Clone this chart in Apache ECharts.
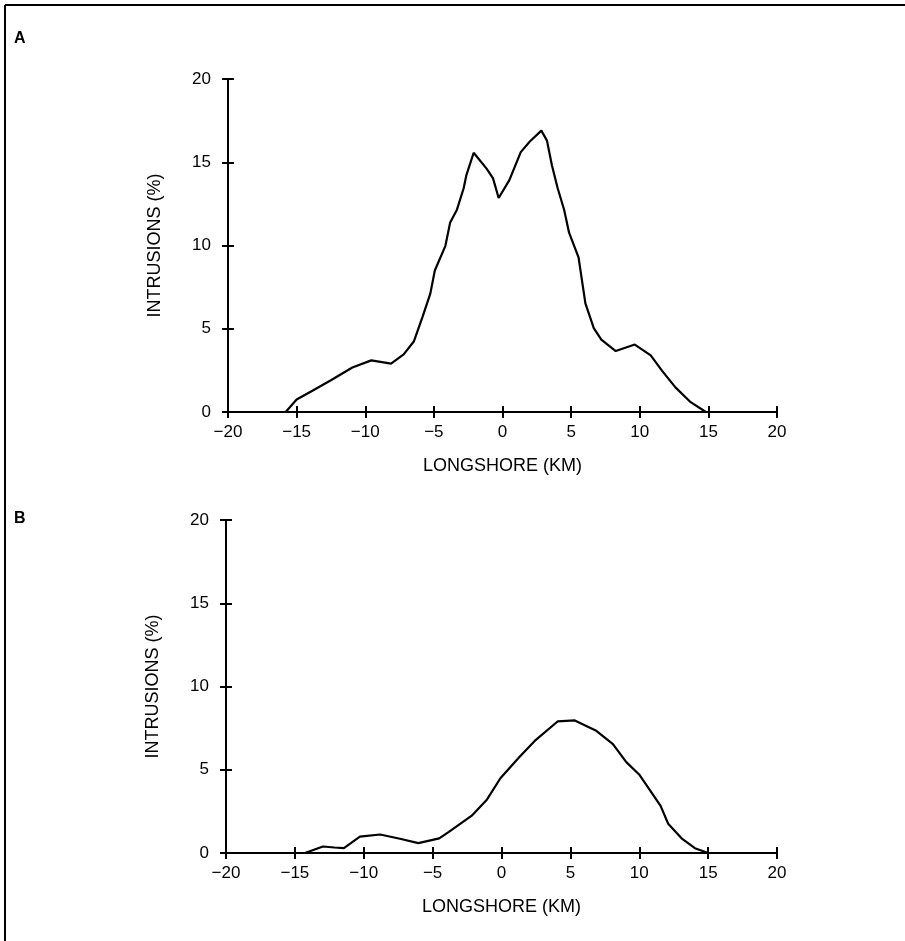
<!DOCTYPE html>
<html><head><meta charset="utf-8">
<script src="https://cdn.jsdelivr.net/npm/echarts@6/dist/echarts.min.js"></script>
<style>html,body{margin:0;padding:0;background:#fff}#c{width:905px;height:941px}</style>
</head><body><div id="c"></div>
<script>
// Panel A
const xA = [-20,-15.8,-15.0,-13.85,-12.47,-10.94,-9.56,-8.12,-7.2,-6.45,-5.82,-5.26,-4.93,-4.16,-3.82,-3.32,-2.83,-2.63,-2.1,-1.16,-0.69,-0.28,0.5,1.33,1.99,2.83,3.24,3.6,4.02,4.49,4.85,5.54,6.04,6.65,7.2,8.25,9.64,10.8,11.63,12.6,13.71,14.82];
const yA = [0,0,0.75,1.28,1.92,2.67,3.10,2.91,3.46,4.25,5.73,7.11,8.5,9.98,11.36,12.15,13.44,14.23,15.57,14.62,14.03,12.85,13.93,15.61,16.25,16.9,16.3,14.82,13.44,12.15,10.77,9.29,6.52,5.04,4.35,3.66,4.05,3.4,2.47,1.48,0.59,0];
// Panel B
const xB = [-20,-14.27,-12.96,-12.13,-11.44,-10.28,-8.81,-7.29,-6.04,-4.52,-3.82,-2.16,-1.05,-0.08,1.3,2.41,4.07,5.32,6.84,8.09,9.06,10.03,11.55,12.1,13.07,14.04,15.01];
const yB = [0,0,0.39,0.33,0.29,0.98,1.11,0.84,0.59,0.88,1.27,2.24,3.22,4.49,5.76,6.73,7.9,7.96,7.36,6.54,5.46,4.68,2.83,1.76,0.88,0.29,0];
const panelLabels = ['A','B'];
const xName = 'LONGSHORE (KM)';
const yName = 'INTRUSIONS (%)';

const FONT = '"Liberation Sans", Arial, sans-serif';
const fmt = v => String(v).replace('-', '\u2212');
function xAxes(gi){
  const base = {type:'value', gridIndex:gi, min:-20, max:20, interval:5, position:'bottom',
    axisLine:{onZero:false, lineStyle:{color:'#000', width:2}}, splitLine:{show:false}};
  return [
    Object.assign({}, base, {name:xName, nameLocation:'middle', nameGap:45,
      nameTextStyle:{fontFamily:FONT, fontSize:18, color:'#000'},
      axisTick:{show:true, length:6, lineStyle:{color:'#000', width:2}},
      axisLabel:{margin:12, fontFamily:FONT, fontSize:17, color:'#000', formatter:fmt}}),
    Object.assign({}, base, {axisTick:{show:true, inside:true, length:6, lineStyle:{color:'#000', width:2}},
      axisLabel:{show:false}})
  ];
}
function yAxes(gi){
  const base = {type:'value', gridIndex:gi, min:0, max:20, interval:5, position:'left',
    axisLine:{show:true, onZero:false, lineStyle:{color:'#000', width:2}}, splitLine:{show:false}};
  return [
    Object.assign({}, base, {name:yName, nameLocation:'middle', nameGap:64,
      nameTextStyle:{fontFamily:FONT, fontSize:18, color:'#000'},
      axisTick:{show:true, length:6, lineStyle:{color:'#000', width:2}},
      axisLabel:{margin:17, fontFamily:FONT, fontSize:17, color:'#000'}}),
    Object.assign({}, base, {axisTick:{show:true, inside:true, length:6, lineStyle:{color:'#000', width:2}},
      axisLabel:{show:false}})
  ];
}
const chart = echarts.init(document.getElementById('c'), null, {renderer:'canvas'});
chart.setOption({
  backgroundColor:'#fff',
  animation:false,
  grid:[
    {left:228, right:128, top:79, height:333},
    {left:226, right:128, top:520, height:333}
  ],
  xAxis:[...xAxes(0), ...xAxes(1)],
  yAxis:[...yAxes(0), ...yAxes(1)],
  series:[
    {type:'line', xAxisIndex:0, yAxisIndex:0, data:xA.map((x,i)=>[x,yA[i]]), showSymbol:false,
      lineStyle:{color:'#000', width:2.2}},
    {type:'line', xAxisIndex:2, yAxisIndex:2, data:xB.map((x,i)=>[x,yB[i]]), showSymbol:false,
      lineStyle:{color:'#000', width:2.2}}
  ],
  graphic:[
    {type:'line', shape:{x1:5, y1:5, x2:905, y2:5}, style:{stroke:'#000', lineWidth:2}},
    {type:'line', shape:{x1:5, y1:5, x2:5, y2:941}, style:{stroke:'#000', lineWidth:2}},
    {type:'text', left:14, top:31, style:{text:panelLabels[0], font:'bold 16px ' + FONT, fill:'#000'}},
    {type:'text', left:14, top:511, style:{text:panelLabels[1], font:'bold 16px ' + FONT, fill:'#000'}}
  ]
});
</script></body></html>
